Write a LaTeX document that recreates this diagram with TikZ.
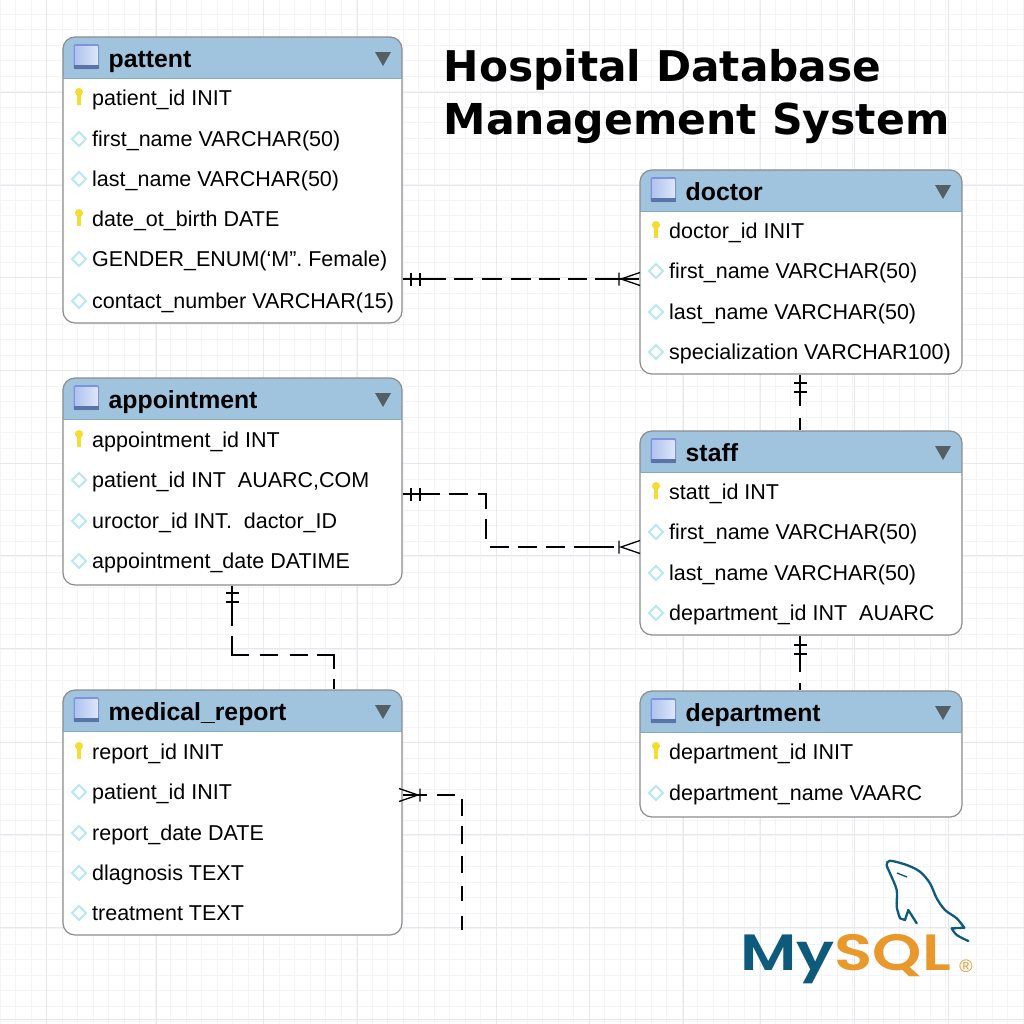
\documentclass[tikz,border=0pt]{standalone}
\usepackage{fontspec}
\setmainfont{Liberation Sans}
\newfontfamily\titlefont{DejaVu Sans}
\newfontfamily\logofont[UprightFont=* SemiBold]{Poppins}
\definecolor{headblue}{HTML}{A0C3DE}
\definecolor{headline}{HTML}{86A9C4}
\definecolor{tableedge}{HTML}{8C8C8C}
\definecolor{markgrey}{HTML}{555E62}
\definecolor{keyyellow}{HTML}{F5DC2E}
\definecolor{diamondblue}{HTML}{B8E6F3}
\definecolor{gridminor}{HTML}{F3F4F7}
\definecolor{gridmajor}{HTML}{E6E8ED}
\definecolor{mysqlblue}{HTML}{0E5A7C}
\definecolor{mysqlorange}{HTML}{E9982C}
\definecolor{iconedge}{HTML}{7E93DC}
\definecolor{iconband}{HTML}{5A74A8}
\definecolor{iconlight}{HTML}{DCE6F8}
\definecolor{iconmid}{HTML}{AFC3EE}
\tikzset{
  tablebox/.style={draw=tableedge,fill=white,line width=1.2bp,rounded corners=12bp,
    inner sep=0pt,anchor=north west,
    path picture={\fill[headblue,sharp corners] (path picture bounding box.north west)
      rectangle ([yshift=-42bp]path picture bounding box.north east);}},
  tabletitle/.style={anchor=base west,inner sep=0pt,font=\fontsize{24.8bp}{25bp}\selectfont\bfseries},
  rowtext/.style={anchor=base west,inner sep=0pt,font=\fontsize{21.5bp}{21.5bp}\selectfont},
  maintitle/.style={anchor=base west,inner sep=0pt,font=\fontsize{#1}{43bp}\selectfont\titlefont\bfseries},
  rel/.style={line width=1.3bp,black},
  twobar/.pic={\draw[rel] (0,-6.5) -- (0,6.5) (9,-6.5) -- (9,6.5);},
  crowfoot/.pic={\draw[rel] (0,-6.5) -- (0,6.5) (21,-6.5) -- (2,0) -- (21,6.5);},
}
\newcommand\keymark[2]{\fill[keyyellow] (#1,{#2-6}) circle (4bp);
  \fill[keyyellow] ({#1-1.8},{#2-6}) rectangle ({#1+1.8},{#2+7});}
\newcommand\diamark[2]{\draw[diamondblue,line width=1.9bp] ({#1-7},#2) -- (#1,{#2-7}) -- ({#1+7},#2) -- (#1,{#2+7}) -- cycle;}
% name, left, top, width, height, title, rows
\newcommand\ertable[7]{%
  \node[tablebox,minimum width=#4bp,minimum height=#5bp] (#1) at ({#2-.6},{#3-.6}) {};
  \begin{scope}[shift={(#2,#3)}]
    \draw[headline,line width=1bp] (0,41.5) -- (#4,41.5);
    \fill[rounded corners=1.5bp,iconedge] (10.5,7) rectangle (36,32);
    \shade[left color=iconmid,right color=iconlight] (12,9) rectangle (34.5,28);
    \fill[iconband] (11,28) rectangle (35.5,32);
    \fill[markgrey] ({#4-27},15) -- ({#4-11},15) -- ({#4-19},29) -- cycle;
    \node[tabletitle] (#1-title) at (45.5,30.5) {#6};
  \end{scope}
  \begin{scope}[shift={(#2,0)}]
    \foreach \y/\rowmark/\rowtxt [count=\i] in {#7} {
      \rowmark{16}{\y}
      \node[rowtext] (#1-\i) at (29,{\y+7.6}) {\rowtxt};
    }
  \end{scope}
}
\begin{document}
\begin{tikzpicture}[x=1bp,y=-1bp]
  \useasboundingbox (0,0) rectangle (1024,1024);
  \fill[white] (0,0) rectangle (1024,1024);
  % Background grid
  \foreach \g in {0,15.5,...,1024} {
    \draw[gridminor,line width=.8bp] (\g,0) -- (\g,1024);
    \draw[gridminor,line width=.8bp] (0,{\g+14}) -- (1024,{\g+14});
  }
  \foreach \g in {46,156,263,357,496,589,683,760,854,948}
    \draw[gridmajor,line width=1bp] (\g,0) -- (\g,1024);
  \foreach \g in {92,185,277,370,463,555,648,742,834,927,1019}
    \draw[gridmajor,line width=1bp] (0,\g) -- (1024,\g);
  % Title
  \node[maintitle=42.3bp] (title-a) at (443.5,81) {Hospital Database};
  \node[maintitle=42.6bp] (title-b) at (443.5,134) {Management System};
  % Node: patient
  \ertable{patient}{63}{37}{339}{286}{pattent}{
    98/\keymark/{patient\_id INIT},
    139/\diamark/{first\_name VARCHAR(50)},
    179/\diamark/{last\_name VARCHAR(50)},
    219/\keymark/{date\_ot\_birth DATE},
    259/\diamark/{GENDER\_ENUM(`M”. Female)},
    301/\diamark/{contact\_number VARCHAR(15)}}
  % Node: doctor
  \ertable{doctor}{640}{170}{322}{204}{doctor}{
    231/\keymark/{doctor\_id INIT},
    271/\diamark/{first\_name VARCHAR(50)},
    312/\diamark/{last\_name VARCHAR(50)},
    352/\diamark/{specialization VARCHAR100)}}
  % Node: appointment
  \ertable{appointment}{63}{378}{339}{207}{appointment}{
    440/\keymark/{appointment\_id INT},
    480/\diamark/{patient\_id INT\ \ AUARC,COM},
    521/\diamark/{uroctor\_id INT.\ \ dactor\_ID},
    561/\diamark/{appointment\_date DATIME}}
  % Node: staff
  \ertable{staff}{640}{431}{322}{204}{staff}{
    492/\keymark/{statt\_id INT},
    532/\diamark/{first\_name VARCHAR(50)},
    573/\diamark/{last\_name VARCHAR(50)},
    613/\diamark/{department\_id INT\ \ AUARC}}
  % Node: medical_report
  \ertable{report}{63}{690}{339}{245}{medical\_report}{
    752/\keymark/{report\_id INIT},
    792/\diamark/{patient\_id INIT},
    833/\diamark/{report\_date DATE},
    873/\diamark/{dlagnosis TEXT},
    913/\diamark/{treatment TEXT}}
  % Node: department
  \ertable{department}{640}{691}{322}{126}{department}{
    752/\keymark/{department\_id INIT},
    793/\diamark/{department\_name VAARC}}
  % Edge: patient -> doctor
  \draw[rel,dash pattern=on 43bp off 8bp on 19bp off 9bp on 20bp off 9bp on 20bp off 8bp on 21bp off 8bp on 19bp off 8bp on 45bp]
    (patient.east |- 0,279) -- (doctor.west |- 0,279);
  \pic at (411,279) {twobar};
  \pic at (619,279) {crowfoot};
  % Edge: appointment -> staff
  \draw[rel,dash pattern=on 37bp off 9bp on 19bp off 10bp on 23bp off 10bp on 20bp off 12bp on 19bp off 9bp on 19bp off 9bp on 19bp off 9bp on 40bp]
    (appointment.east |- 0,494) -| (486,547) -- (staff.west |- 0,547);
  \pic at (411,494) {twobar};
  \pic at (619,547) {crowfoot};
  % Edge: appointment -> medical_report
  \draw[rel,dash pattern=on 40bp off 10bp on 36bp off 11bp on 18bp off 12bp on 18bp off 9bp on 31bp off 10bp on 30bp]
    (appointment.south -| 232,0) |- (334,655) -- (report.north -| 334,0);
  \pic[rotate=-90] at (232,593) {twobar};
  % Edge: doctor -> staff
  \draw[rel,dash pattern=on 31bp off 12bp on 20bp]
    (doctor.south -| 800,0) -- (staff.north -| 800,0);
  \pic[rotate=-90] at (800,383) {twobar};
  % Edge: staff -> department
  \draw[rel,dash pattern=on 36bp off 11bp on 20bp]
    (staff.south -| 800,0) -- (department.north -| 800,0);
  \pic[rotate=-90] at (800,645) {twobar};
  % Edge: medical_report -> off the page
  \coordinate (reportend) at (462,930);
  \draw[rel,dash pattern=on 24bp off 10bp on 18bp off 11bp on 17bp off 10bp on 18bp off 12bp on 17bp off 13bp on 15bp off 15bp on 15bp]
    (report.east |- 0,795) -| (reportend);
  \pic[rotate=180] at (420,795) {crowfoot};
  % Logo
  \draw[mysqlblue,line width=2.3bp,line join=round,line cap=round]
    plot[smooth,tension=.5] coordinates {(916.7,923.3) (908.3,910)}
    -- (905,920) -- (900,918.3)
    plot[smooth,tension=.5] coordinates {(900,918.3) (896.7,906.7) (896.7,890) (890,873.3) (886.7,865) (890,860.7) (906.7,865) (920,871.7) (930,883.3) (936.7,898.3) (945,910) (956.7,918.3) (964.3,927.7)}
    -- (951.7,928.3)
    plot[smooth,tension=.5] coordinates {(951.7,928.3) (956.7,935) (968.3,941)};
  \draw[mysqlblue,line width=1.4bp] (897,873) -- (907,877);
  \node[anchor=base west,inner sep=0pt,xscale=1.23,transform shape,font=\fontsize{51bp}{51bp}\selectfont\logofont] (logo)
    at (740,970) {\textcolor{mysqlblue}{My}\textcolor{mysqlorange}{SQL}};
  \node[inner sep=0pt,text=mysqlorange,font=\fontsize{18bp}{18bp}\selectfont] (logo-r) at (966,966) {®};
\end{tikzpicture}
\end{document}
